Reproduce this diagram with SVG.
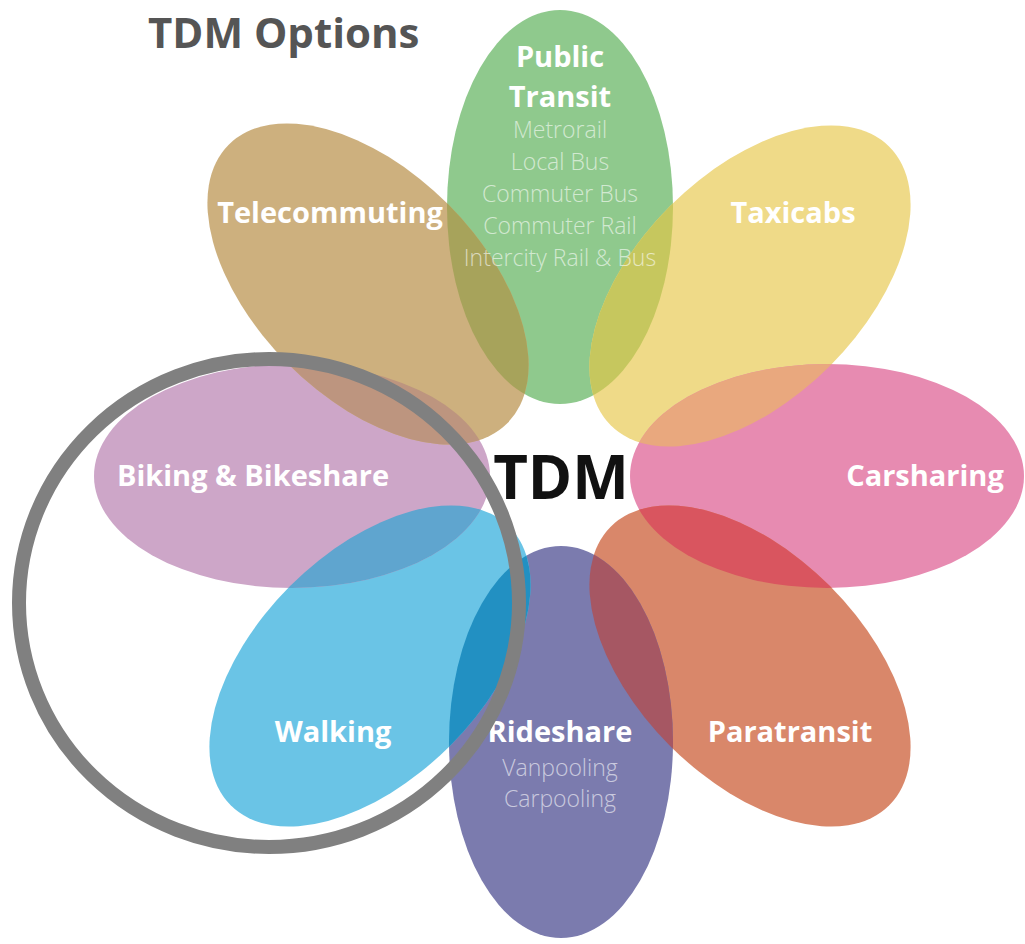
<svg xmlns="http://www.w3.org/2000/svg" width="1025" height="944" viewBox="0 0 1025 944">
<style>
.lbl{font-family:"Open Sans","Liberation Sans",sans-serif;font-weight:700;font-size:29px;fill:#ffffff;text-anchor:middle}
.sub{font-family:"Open Sans","Liberation Sans",sans-serif;font-weight:300;font-size:23px;fill:#ffffff;fill-opacity:0.6;text-anchor:middle}
.title{font-family:"Open Sans","Liberation Sans",sans-serif;font-weight:700;font-size:42px;fill:#555555}
.center{font-family:"Open Sans","Liberation Sans",sans-serif;font-weight:700;font-size:60px;fill:#111111;text-anchor:middle}
</style>
<defs>
<ellipse id="eTransit" cx="560" cy="207" rx="113" ry="197"/>
<ellipse id="eTaxi" cx="0" cy="0" rx="113" ry="197" transform="translate(750,286) rotate(45)"/>
<ellipse id="eCar" cx="827" cy="476" rx="197" ry="112"/>
<ellipse id="ePara" cx="0" cy="0" rx="113" ry="197" transform="translate(750,666) rotate(-45)"/>
<ellipse id="eRide" cx="561" cy="742" rx="112" ry="196"/>
<ellipse id="eWalk" cx="0" cy="0" rx="113" ry="197" transform="translate(370,666) rotate(45)"/>
<ellipse id="eBike" cx="292" cy="476" rx="198" ry="112"/>
<ellipse id="eTele" cx="0" cy="0" rx="113" ry="197" transform="translate(368,284) rotate(-45)"/>
<clipPath id="cTransit"><use href="#eTransit"/></clipPath>
<clipPath id="cCar"><use href="#eCar"/></clipPath>
<clipPath id="cRide"><use href="#eRide"/></clipPath>
<clipPath id="cBike"><use href="#eBike"/></clipPath>
<clipPath id="cTaxi"><use href="#eTaxi"/></clipPath>
<clipPath id="cPara"><use href="#ePara"/></clipPath>
<clipPath id="cWalk"><use href="#eWalk"/></clipPath>
<clipPath id="cTele"><use href="#eTele"/></clipPath>
</defs>
<rect width="1025" height="944" fill="#ffffff"/>
<text class="title" x="148" y="48">TDM Options</text>
<g id="petals">
<g id="transit-shape"><use href="#eTransit" fill="#8FC98D"/></g>
<g id="taxi-shape"><use href="#eTaxi" fill="#EFDA88"/></g>
<g id="car-shape"><use href="#eCar" fill="#E78BB1"/></g>
<g id="para-shape"><use href="#ePara" fill="#D9876A"/></g>
<g id="ride-shape"><use href="#eRide" fill="#7B7BAE"/></g>
<g id="walk-shape"><use href="#eWalk" fill="#6AC4E6"/></g>
<g id="bike-shape"><use href="#eBike" fill="#CDA6C8"/></g>
<g id="tele-shape"><use href="#eTele" fill="#CDB07E"/></g>
</g>
<g id="overlaps">
<use href="#eTele" clip-path="url(#cTransit)" fill="#A7A35B"/>
<use href="#eTaxi" clip-path="url(#cTransit)" fill="#C6C75E"/>
<use href="#eTaxi" clip-path="url(#cCar)" fill="#E9A87E"/>
<use href="#ePara" clip-path="url(#cCar)" fill="#D9555F"/>
<use href="#ePara" clip-path="url(#cRide)" fill="#A65763"/>
<use href="#eWalk" clip-path="url(#cRide)" fill="#2290C2"/>
<use href="#eWalk" clip-path="url(#cBike)" fill="#5FA5CF"/>
<use href="#eTele" clip-path="url(#cBike)" fill="#BD957F"/>
</g>
<g id="transit">
<text class="lbl" x="560" y="67">Public</text>
<text class="lbl" x="560" y="107">Transit</text>
<text class="sub" x="560" y="138">Metrorail</text>
<text class="sub" x="560" y="170">Local Bus</text>
<text class="sub" x="560" y="202">Commuter Bus</text>
<text class="sub" x="560" y="234">Commuter Rail</text>
<text class="sub" x="560" y="266">Intercity Rail &amp; Bus</text>
</g>
<g id="telecommuting"><text class="lbl" x="330" y="223">Telecommuting</text></g>
<g id="taxicabs"><text class="lbl" x="793" y="223">Taxicabs</text></g>
<g id="biking"><text class="lbl" x="253" y="486">Biking &amp; Bikeshare</text></g>
<g id="carsharing"><text class="lbl" x="925" y="486">Carsharing</text></g>
<g id="walking"><text class="lbl" x="333" y="742">Walking</text></g>
<g id="rideshare">
<text class="lbl" x="560" y="742">Rideshare</text>
<text class="sub" x="560" y="776">Vanpooling</text>
<text class="sub" x="560" y="807">Carpooling</text>
</g>
<g id="paratransit"><text class="lbl" x="790" y="742">Paratransit</text></g>
<g id="tdm"><text class="center" x="561" y="499">TDM</text></g>
<g id="connectors">
<ellipse cx="269" cy="603" rx="250" ry="244" fill="none" stroke="#808080" stroke-width="14"/>
</g>
</svg>
